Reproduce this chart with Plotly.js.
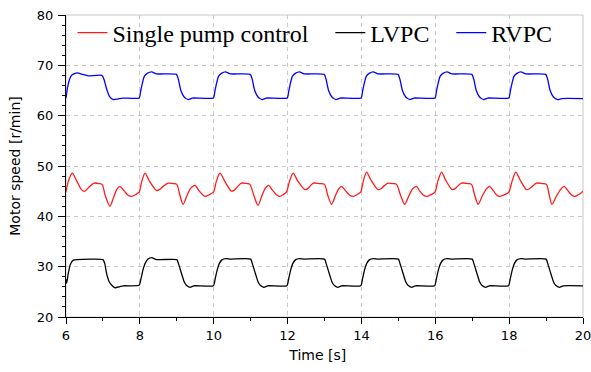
<!DOCTYPE html>
<html>
<head>
<meta charset="utf-8">
<script src="https://cdn.plot.ly/plotly-3.0.1.min.js"></script>
<style>html,body{margin:0;padding:0;background:#fff;}</style>
</head>
<body>
<div id="chart" style="width:591px;height:372px;"></div>
<script>
// Single pump control (red)
const redTime = [
  6.00,6.06,6.17,6.28,6.42,6.50,6.62,6.76,6.90,6.98,7.06,7.19,7.29,7.38,7.46,7.58,7.68,7.78,7.88,
  7.98,8.05,8.14,8.26,8.45,8.53,8.64,8.77,8.90,9.00,9.08,9.17,9.28,9.38,9.49,9.60,9.70,9.76,9.88,
  9.99,10.07,10.17,10.29,10.48,10.56,10.66,10.75,10.90,10.98,11.08,11.20,11.30,11.40,11.48,11.60,11.70,11.79,11.88,
  11.97,12.05,12.15,12.27,12.47,12.55,12.62,12.70,12.87,13.00,13.08,13.19,13.29,13.38,13.46,13.58,13.68,13.78,13.88,
  13.98,14.05,14.14,14.26,14.45,14.53,14.62,14.72,14.87,14.95,15.05,15.17,15.28,15.38,15.49,15.58,15.68,15.76,15.88,
  15.99,16.07,16.17,16.28,16.46,16.54,16.62,16.71,16.88,16.98,17.06,17.16,17.27,17.38,17.47,17.58,17.67,17.74,17.88,
  17.99,18.08,18.18,18.30,18.47,18.55,18.65,18.74,18.90,19.01,19.08,19.16,19.28,19.40,19.49,19.60,19.70,19.78,19.90,20.00
];
const redSpeed = [
  44.8,46.9,48.6,47.2,45.3,44.95,45.8,46.6,46.5,46.3,44.2,42.0,43.8,45.4,45.95,45.0,44.2,43.95,44.3,
  44.8,46.9,48.6,47.0,45.15,45.3,46.0,46.6,46.5,46.35,44.3,42.4,44.2,45.6,46.15,45.1,44.3,43.95,44.3,
  44.8,46.9,48.6,47.1,45.0,45.2,46.0,46.6,46.5,46.35,44.3,42.2,44.0,45.6,46.15,45.1,44.3,43.95,44.3,
  44.8,46.9,48.6,47.1,45.3,45.5,46.1,46.6,46.5,46.35,44.4,42.4,44.0,45.4,45.95,45.0,44.2,43.95,44.3,
  44.8,47.0,48.8,47.2,45.3,45.5,46.1,46.6,46.5,46.35,44.4,42.4,44.0,45.4,45.95,45.0,44.2,43.95,44.3,
  44.8,47.0,48.8,47.2,45.3,45.5,46.1,46.6,46.5,46.35,44.4,42.4,44.0,45.4,45.95,45.0,44.2,43.95,44.3,
  44.8,47.0,48.8,47.2,45.3,45.5,46.1,46.6,46.5,46.35,44.4,42.4,44.0,45.4,45.95,45.0,44.2,43.95,44.4,45.0
];

// LVPC (black)
const lvpcTime = [
  6.00,6.02,6.06,6.12,6.20,6.30,7.00,7.05,7.10,7.17,7.24,7.33,7.45,7.55,
  7.98,8.03,8.09,8.14,8.22,8.32,8.45,9.00,9.05,9.13,9.20,9.26,9.36,9.46,
  9.99,10.04,10.10,10.15,10.23,10.33,10.46,11.00,11.05,11.13,11.20,11.26,11.36,11.46,
  11.98,12.03,12.09,12.14,12.22,12.32,12.45,13.00,13.05,13.13,13.20,13.26,13.36,13.46,
  13.98,14.03,14.09,14.14,14.22,14.32,14.45,15.00,15.05,15.13,15.20,15.26,15.36,15.46,
  15.98,16.03,16.09,16.14,16.22,16.32,16.45,17.00,17.05,17.13,17.20,17.26,17.36,17.46,
  17.98,18.03,18.09,18.14,18.22,18.32,18.45,19.00,19.05,19.13,19.20,19.26,19.36,19.46,20.00
];
const lvpcSpeed = [
  27.5,26.7,28.6,30.5,31.3,31.4,31.4,30.6,28.6,27.0,26.3,25.8,26.0,26.2,
  26.3,27.6,29.5,30.6,31.5,31.8,31.4,31.4,30.5,28.6,27.0,26.3,25.9,26.2,
  26.2,27.6,29.5,30.6,31.4,31.6,31.5,31.5,30.5,28.6,27.0,26.3,25.9,26.2,
  26.2,27.6,29.5,30.6,31.4,31.6,31.5,31.5,30.5,28.6,27.0,26.3,25.9,26.2,
  26.2,27.6,29.5,30.6,31.4,31.6,31.5,31.5,30.5,28.6,27.0,26.3,25.9,26.2,
  26.2,27.6,29.5,30.6,31.4,31.6,31.5,31.5,30.5,28.6,27.0,26.3,25.9,26.2,
  26.2,27.6,29.5,30.6,31.4,31.6,31.5,31.5,30.5,28.6,27.0,26.3,25.9,26.2,26.2
];

// RVPC (blue)
const rvpcTime = [
  6.00,6.04,6.10,6.16,6.30,6.45,6.60,6.97,7.03,7.10,7.18,7.28,7.40,7.54,
  7.98,8.02,8.07,8.12,8.20,8.32,8.45,8.99,9.04,9.11,9.20,9.31,9.42,
  9.99,10.03,10.08,10.13,10.21,10.32,10.45,10.99,11.04,11.11,11.20,11.31,11.42,
  11.99,12.03,12.08,12.13,12.21,12.32,12.45,12.99,13.04,13.11,13.20,13.31,13.42,
  13.99,14.03,14.08,14.13,14.21,14.32,14.45,14.99,15.04,15.11,15.20,15.31,15.42,
  15.99,16.03,16.08,16.13,16.21,16.32,16.45,16.99,17.04,17.11,17.20,17.31,17.42,
  17.99,18.03,18.08,18.13,18.21,18.32,18.45,18.99,19.04,19.11,19.20,19.31,19.42,20.00
];
const rvpcSpeed = [
  63.5,65.5,67.3,68.1,68.5,68.2,67.9,68.0,67.2,65.3,63.8,63.2,63.3,63.5,
  63.5,64.8,66.5,67.8,68.4,68.7,68.3,68.2,67.3,65.0,63.7,63.2,63.5,
  63.5,64.8,66.5,67.8,68.4,68.7,68.3,68.2,67.3,65.0,63.7,63.2,63.5,
  63.5,64.8,66.5,67.8,68.4,68.7,68.3,68.2,67.3,65.0,63.7,63.2,63.5,
  63.5,64.8,66.5,67.8,68.4,68.7,68.3,68.2,67.3,65.0,63.7,63.2,63.5,
  63.5,64.8,66.5,67.8,68.4,68.7,68.3,68.2,67.3,65.0,63.7,63.2,63.5,
  63.5,64.8,66.5,67.8,68.4,68.7,68.3,68.2,67.3,65.0,63.7,63.2,63.4,63.4
];

const seriesNames = ['Single pump control', 'LVPC', 'RVPC'];
const seriesColors = ['#ff1a1a', '#000000', '#0000ff'];
const legendPad = '\u00a0\u00a0\u2009';

const traces = [
  {x: redTime, y: redSpeed, name: seriesNames[0] + legendPad, type: 'scatter', mode: 'lines',
   line: {color: seriesColors[0], width: 1.3, shape: 'spline', smoothing: 0.8}},
  {x: lvpcTime, y: lvpcSpeed, name: seriesNames[1] + legendPad, type: 'scatter', mode: 'lines',
   line: {color: seriesColors[1], width: 1.3, shape: 'spline', smoothing: 0.5}},
  {x: rvpcTime, y: rvpcSpeed, name: seriesNames[2], type: 'scatter', mode: 'lines',
   line: {color: seriesColors[2], width: 1.3, shape: 'spline', smoothing: 0.5}}
];

const tickFont = {family: 'DejaVu Sans', size: 13, color: '#000'};
const gridDash = '4px,4px';

const layout = {
  width: 591, height: 372,
  margin: {l: 66, r: 8, t: 15, b: 55},
  paper_bgcolor: '#fff', plot_bgcolor: '#fff',
  showlegend: true,
  legend: {
    orientation: 'h', x: 0.0126, y: 1.015, xanchor: 'left', yanchor: 'top',
    bgcolor: 'rgba(0,0,0,0)', borderwidth: 0,
    font: {family: 'Liberation Serif', size: 24, color: '#000'}
  },
  xaxis: {
    range: [6, 20], tick0: 6, dtick: 2, ticks: 'outside', ticklen: 6, tickwidth: 1, tickcolor: '#000',
    showline: true, linecolor: '#000', linewidth: 1, zeroline: false,
    showgrid: true, gridcolor: '#c8c8c8', gridwidth: 1, griddash: gridDash,
    tickfont: tickFont, ticklabeloverflow: 'allow',
    minor: {dtick: 1, tick0: 6, ticks: 'outside', ticklen: 3, tickcolor: '#000', showgrid: false},
    title: {text: 'Time [s]\u00a0\u00a0\u00a0\u200b', font: {family: 'DejaVu Sans', size: 14, color: '#000'}, standoff: 8}
  },
  yaxis: {
    range: [20, 80], tick0: 20, dtick: 10, ticks: 'outside', ticklen: 7, tickwidth: 1, tickcolor: '#000',
    showline: true, linecolor: '#000', linewidth: 1, zeroline: false,
    showgrid: true, gridcolor: '#c8c8c8', gridwidth: 1, griddash: gridDash,
    tickfont: tickFont, ticklabelstandoff: 2, ticklabeloverflow: 'allow',
    minor: {dtick: 2, tick0: 20, ticks: 'outside', ticklen: 3, tickcolor: '#000', showgrid: false},
    title: {text: 'Motor speed [r/min]', font: {family: 'DejaVu Sans', size: 14, color: '#000'}, standoff: 12}
  },
  shapes: [
    {type: 'rect', xref: 'paper', yref: 'paper', x0: 0, x1: 1, y0: 0, y1: 1,
     line: {color: '#c8c8c8', width: 1}, layer: 'below'}
  ]
};

Plotly.newPlot('chart', traces, layout, {displayModeBar: false, staticPlot: true});
</script>
</body>
</html>
